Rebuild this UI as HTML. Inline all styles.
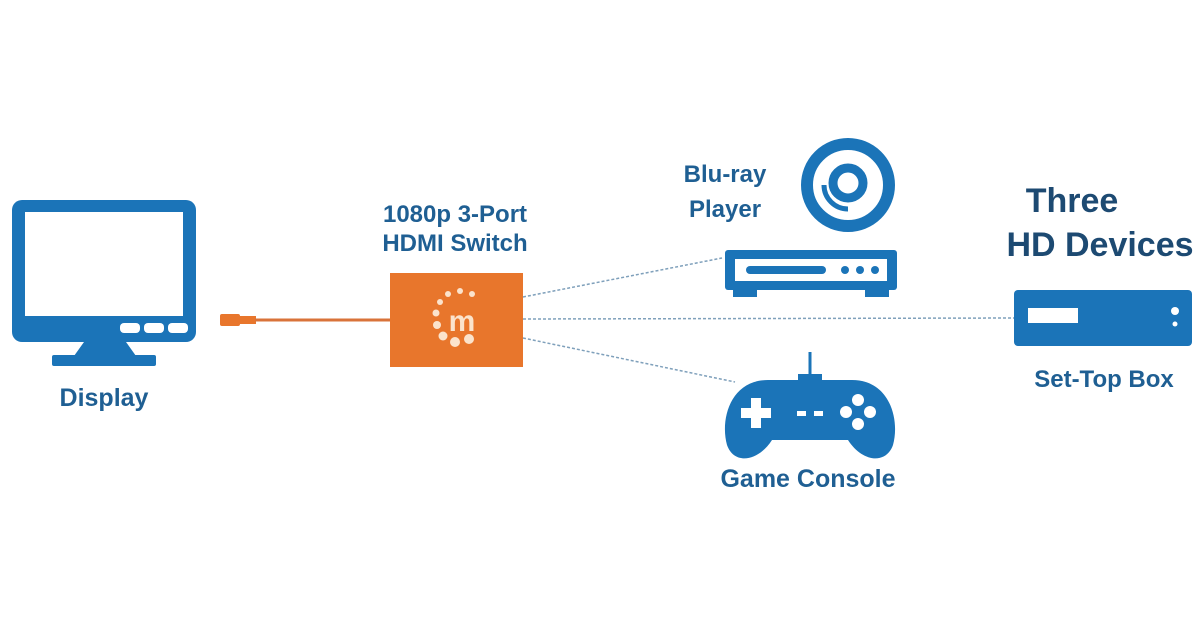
<!DOCTYPE html>
<html><head><meta charset="utf-8"><style>
html,body{margin:0;padding:0;background:#fff;width:1200px;height:630px;overflow:hidden}
text{font-family:"Liberation Sans",sans-serif;font-weight:bold}
</style></head><body>
<svg width="1200" height="630" viewBox="0 0 1200 630">
<!-- monitor -->
<rect x="12" y="200" width="184" height="142" rx="10" fill="#1b74b8"/>
<rect x="25" y="212" width="158" height="104" fill="#fff"/>
<rect x="120" y="323" width="20" height="10" rx="4" fill="#fff"/>
<rect x="144" y="323" width="20" height="10" rx="4" fill="#fff"/>
<rect x="168" y="323" width="20" height="10" rx="4" fill="#fff"/>
<polygon points="84,342 126,342 136,356 74,356" fill="#1b74b8"/>
<rect x="52" y="355" width="104" height="11" rx="2" fill="#1b74b8"/>
<text x="104" y="406" font-size="25" fill="#1f5f93" text-anchor="middle">Display</text>
<!-- cable -->
<rect x="220" y="314" width="20" height="12" rx="2" fill="#e8762c"/>
<rect x="238" y="316" width="18" height="8" fill="#e8762c"/>
<line x1="255" y1="320" x2="392" y2="320" stroke="#d9733a" stroke-width="3"/>
<!-- switch -->
<text x="455" y="222" font-size="24" fill="#1f5f93" text-anchor="middle">1080p 3-Port</text>
<text x="455" y="251" font-size="24" fill="#1f5f93" text-anchor="middle">HDMI Switch</text>
<rect x="390" y="273" width="133" height="94" fill="#e8762c"/>
<g fill="#fbe3cc">
<circle cx="460" cy="291" r="3"/><circle cx="472" cy="294" r="3"/><circle cx="448" cy="294" r="3"/>
<circle cx="440" cy="302" r="3"/><circle cx="436" cy="313" r="3.5"/><circle cx="437" cy="325" r="4"/>
<circle cx="443" cy="336" r="4.5"/><circle cx="455" cy="342" r="5"/><circle cx="469" cy="339" r="5"/>
</g>
<text x="462" y="331" font-size="30" fill="#fbe3cc" text-anchor="middle">m</text>
<!-- dotted connectors -->
<g stroke="#7fa0bb" stroke-width="1.5" stroke-dasharray="3,2" fill="none">
<line x1="523" y1="297" x2="722" y2="258"/>
<line x1="523" y1="319" x2="1014" y2="318"/>
<line x1="523" y1="338" x2="735" y2="382"/>
</g>
<!-- blu-ray -->
<text x="725" y="182" font-size="24" fill="#1f5f93" text-anchor="middle">Blu-ray</text>
<text x="725" y="217" font-size="24" fill="#1f5f93" text-anchor="middle">Player</text>
<circle cx="848" cy="185" r="41" fill="none" stroke="#1b74b8" stroke-width="12"/>
<circle cx="848" cy="183" r="15" fill="none" stroke="#1b74b8" stroke-width="9"/>
<path d="M824 185 A24 24 0 0 0 848 209" fill="none" stroke="#1b74b8" stroke-width="5"/>
<rect x="725" y="250" width="172" height="40" rx="3" fill="#1b74b8"/>
<rect x="735" y="259" width="152" height="22" fill="#fff"/>
<rect x="746" y="266" width="80" height="8" rx="4" fill="#1b74b8"/>
<circle cx="845" cy="270" r="4" fill="#1b74b8"/><circle cx="860" cy="270" r="4" fill="#1b74b8"/><circle cx="875" cy="270" r="4" fill="#1b74b8"/>
<rect x="733" y="289" width="24" height="8" fill="#1b74b8"/><rect x="865" y="289" width="24" height="8" fill="#1b74b8"/>
<!-- set-top -->
<text x="1072" y="212" font-size="34" fill="#1d4a72" text-anchor="middle">Three</text>
<text x="1100" y="256" font-size="34" fill="#1d4a72" text-anchor="middle">HD Devices</text>
<rect x="1014" y="290" width="178" height="56" rx="4" fill="#1b74b8"/>
<rect x="1028" y="308" width="50" height="15" fill="#fff"/>
<circle cx="1175" cy="311" r="4" fill="#fff"/><circle cx="1175" cy="324" r="2.5" fill="#fff"/>
<text x="1104" y="387" font-size="24" fill="#1f5f93" text-anchor="middle">Set-Top Box</text>
<!-- gamepad -->
<line x1="810" y1="352" x2="810" y2="378" stroke="#1b74b8" stroke-width="3"/>
<rect x="798" y="374" width="24" height="10" fill="#1b74b8"/>
<path d="M768 380 L852 380 C890 380 900 420 893 445 C886 465 862 462 848 440 L772 440 C758 462 734 465 727 445 C720 420 730 380 768 380 Z" fill="#1b74b8"/>
<path d="M751 398 h10 v10 h10 v10 h-10 v10 h-10 v-10 h-10 v-10 h10 Z" fill="#fff"/>
<circle cx="858" cy="400" r="6" fill="#fff"/><circle cx="846" cy="412" r="6" fill="#fff"/>
<circle cx="870" cy="412" r="6" fill="#fff"/><circle cx="858" cy="424" r="6" fill="#fff"/>
<rect x="797" y="411" width="9" height="5" fill="#fff"/><rect x="814" y="411" width="9" height="5" fill="#fff"/>
<text x="808" y="487" font-size="25" fill="#1f5f93" text-anchor="middle">Game Console</text>
</svg>
</body></html>
